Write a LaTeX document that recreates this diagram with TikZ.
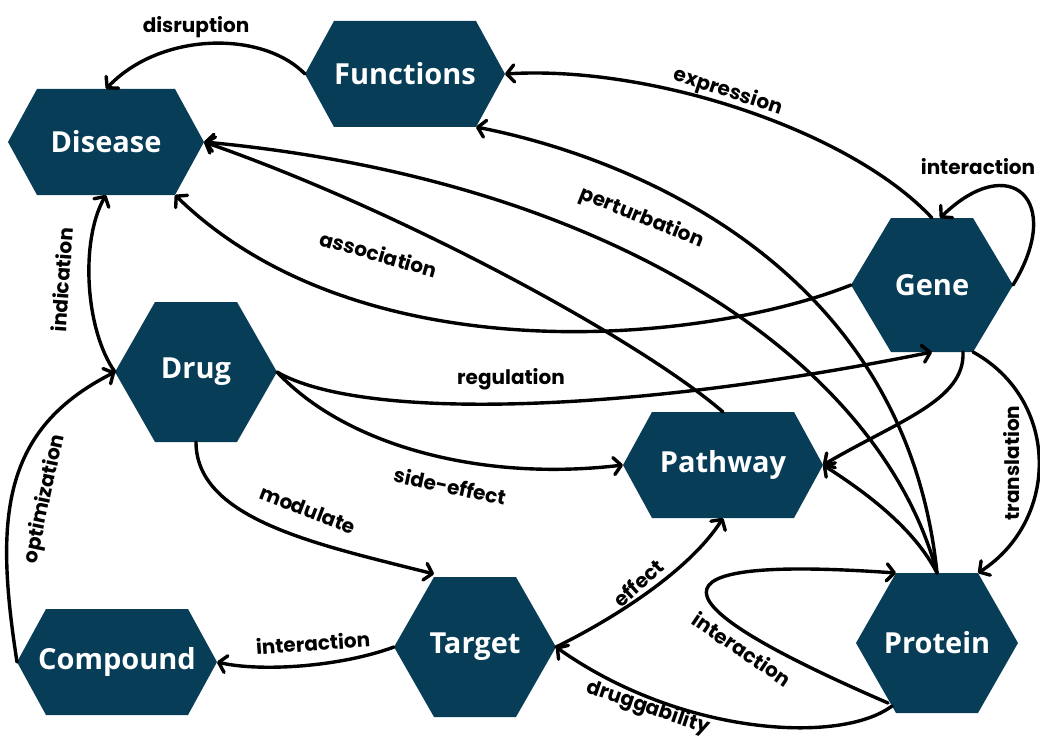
\documentclass[tikz,border=0pt]{standalone}
\usepackage{fontspec}
\setmainfont{Open Sans}
\newfontfamily\lblfont{Poppins}
\usetikzlibrary{arrows.meta}
\definecolor{hexfill}{RGB}{7,61,87}
\begin{document}
\begin{tikzpicture}[x=1pt,y=-1pt,
  hexbase/.style={inner sep=0pt, outer sep=0pt, text=white, font=\bfseries\fontsize{29}{35}\selectfont},
  hexw/.style={hexbase, minimum width=200pt, minimum height=106pt,
    path picture={\fill[hexfill] ([xshift=29pt]path picture bounding box.north west) -- ([xshift=-29pt]path picture bounding box.north east) -- (path picture bounding box.east) -- ([xshift=-29pt]path picture bounding box.south east) -- ([xshift=29pt]path picture bounding box.south west) -- (path picture bounding box.west) -- cycle;}},
  hext/.style={hexbase, minimum width=162pt, minimum height=140pt,
    path picture={\fill[hexfill] ([xshift=40pt]path picture bounding box.north west) -- ([xshift=-40pt]path picture bounding box.north east) -- (path picture bounding box.east) -- ([xshift=-40pt]path picture bounding box.south east) -- ([xshift=40pt]path picture bounding box.south west) -- (path picture bounding box.west) -- cycle;}},
  edge/.style={line width=3.4pt, line cap=round, -{Straight Barb[length=7.5pt,width=17pt,line cap=round,line join=round]}},
  lbl/.style={font=\lblfont\bfseries\fontsize{20}{24}\selectfont, inner sep=0pt}]
\useasboundingbox (0,0) rectangle (1040,738);

\node[hexw] (functions) at (405,74) {Functions};
\node[hexw, minimum width=196pt] (disease) at (106,142) {Disease};
\node[hext, minimum height=134pt] (gene) at (932,285) {Gene};
\node[hext] (drug) at (196,372) {Drug};
\node[hexw] (pathway) at (723,465) {Pathway};
\node[hext] (protein) at (937,643) {Protein};
\node[hext] (target) at (475,647) {Target};
\node[hexw] (compound) at (117,662) {Compound};

\draw[edge] (functions.west) .. controls (262,30) and (160,32) .. (disease.north);
\draw[edge] (gene.north) .. controls (850,130) and (650,65) .. (functions.east);
\draw[edge] (gene.east) .. controls (1065,200) and (1010,150) .. ([xshift=8pt]gene.north);
\draw[edge] (protein.north) .. controls (905,260) and (620,155) .. ([xshift=-29pt]functions.south east);
\draw[edge] (protein.north) .. controls (880,360) and (610,180) .. (disease.east);
\draw[edge] (pathway.north) .. controls (640,340) and (400,210) .. (disease.east);
\draw[edge] (gene.west) .. controls (700,345) and (360,375) .. ([xshift=-29pt]disease.south east);
\draw[edge] (drug.west) .. controls (85,330) and (80,240) .. (disease.south);
\draw[edge] (compound.west) .. controls (-5,520) and (0,430) .. (drug.west);
\draw[edge] (drug.south) .. controls (196,520) and (320,545) .. ([xshift=40pt,yshift=3pt]target.north west);
\draw[edge] (target.west) .. controls (340,667) and (260,672) .. (compound.east);
\draw[edge] (drug.east) .. controls (360,420) and (620,415) .. (gene.south);
\draw[edge] (drug.east) .. controls (345,445) and (480,482) .. (pathway.west);
\draw[edge] ([xshift=31pt]gene.south) .. controls (965,400) and (900,420) .. (pathway.east);
\draw[edge] (protein.north) .. controls (915,530) and (870,495) .. (pathway.east);
\draw[edge] ([xshift=-40pt]gene.south east) .. controls (1060,400) and (1060,520) .. ([xshift=-40pt]protein.north east);
\draw[edge] (target.east) .. controls (615,618) and (690,570) .. (pathway.south);
\draw[edge] ([xshift=36pt,yshift=7pt]protein.south west) .. controls (840,745) and (680,735) .. (target.east);
\draw[edge] ([xshift=32pt,yshift=10pt]protein.south west) .. controls (650,600) and (640,555) .. ([xshift=40pt]protein.north west);

\node[lbl] (l1) at (196,27) {disruption};
\node[lbl, rotate=-18] (l2) at (728,92) {expression};
\node[lbl] (l3) at (978,167) {interaction};
\node[lbl, rotate=-22] (l4) at (642,218) {perturbation};
\node[lbl, rotate=-16] (l5) at (379,254) {association};
\node[lbl, rotate=86] (l6) at (62,280) {indication};
\node[lbl, rotate=78] (l7) at (45,499) {optimization};
\node[lbl, rotate=-21] (l8) at (308,510) {modulate};
\node[lbl, rotate=-12] (l9) at (450,486) {side-effect};
\node[lbl] (l10) at (511,379) {regulation};
\node[lbl, rotate=4] (l11) at (313,643) {interaction};
\node[lbl, rotate=90] (l12) at (1012,463) {translation};
\node[lbl, rotate=42] (l13) at (638,583) {effect};
\node[lbl, rotate=-34] (l14) at (742,649) {interaction};
\node[lbl, rotate=-19] (l15) at (648,708) {druggability};
\end{tikzpicture}
\end{document}
